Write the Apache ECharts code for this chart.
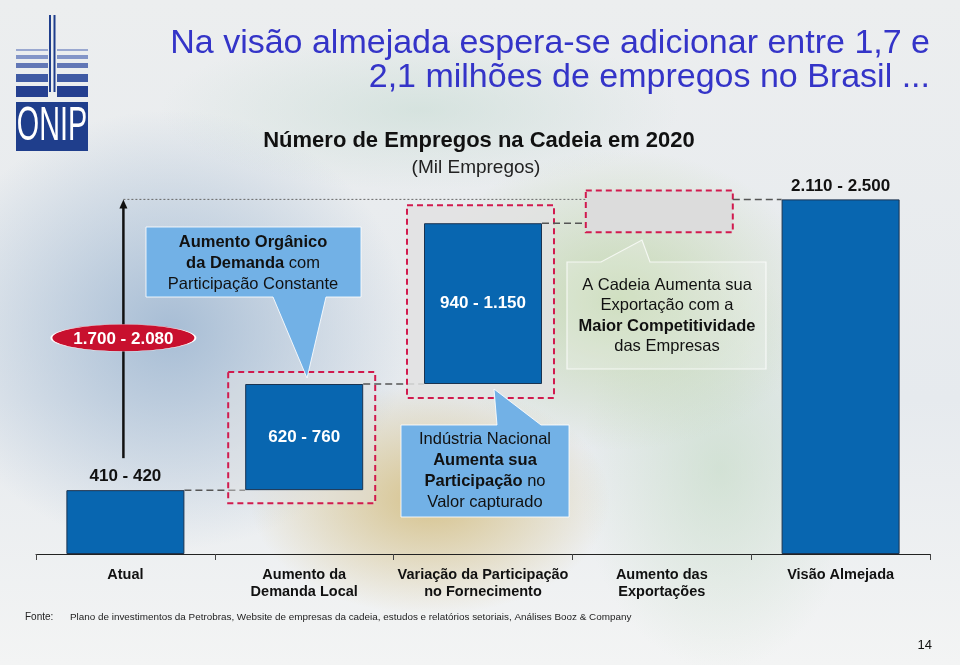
<!DOCTYPE html>
<html><head><meta charset="utf-8">
<script src="https://cdn.jsdelivr.net/npm/echarts@6/dist/echarts.min.js"></script>
<style>
html,body{margin:0;padding:0;}
#main{width:960px;height:665px;
background:
 radial-gradient(ellipse 180px 115px at 430px 500px, rgba(212,190,130,0.9), rgba(212,190,130,0) 100%),
 radial-gradient(ellipse 200px 150px at 620px 300px, rgba(190,212,165,0.8), rgba(190,212,165,0) 100%),
 radial-gradient(ellipse 240px 220px at 170px 330px, rgba(160,184,210,0.9), rgba(160,184,210,0) 100%),
 radial-gradient(ellipse 260px 80px at 420px 110px, rgba(200,220,212,0.6), rgba(200,220,212,0) 100%),
 radial-gradient(ellipse 140px 200px at 720px 470px, rgba(195,218,195,0.6), rgba(195,218,195,0) 100%),
 linear-gradient(180deg, #eceeef 0%, #e6eaee 60%, #f3f4f4 100%);}
</style>
</head><body>
<div id="main"></div>
<script>
// ---- data ----
const categories = ['Atual', 'Aumento da\nDemanda Local', 'Variação da Participação\nno Fornecimento', 'Aumento das\nExportações', 'Visão Almejada'];
const values = [415, 690, 1045, 155, 2305];           // mil empregos (mid-range estimates)
const rangeLabels = ['410 - 420', '620 - 760', '940 - 1.150', '', '2.110 - 2.500'];
const totalIncreaseLabel = '1.700 - 2.080';
const titleLines = ['Na visão almejada espera-se adicionar entre 1,7 e', '2,1 milhões de empregos no Brasil ...'];
const subtitle = 'Número de Empregos na Cadeia em 2020';
const unitLabel = '(Mil Empregos)';
const sourceText = 'Plano de investimentos da Petrobras, Website de empresas da cadeia, estudos e relatórios setoriais, Análises Booz & Company';
const pageNumber = '14';

// ---- derived ----
const bases = values.map((v, i) => (i === 0 || i === values.length - 1) ? 0 : values.slice(0, i).reduce((a, b) => a + b, 0));
const tops = values.map((v, i) => bases[i] + v);
const total = values[values.length - 1];

const FONT = 'Liberation Sans, Arial, sans-serif';
const BLUE = '#0866b0';
const FRAME = '#d11a4e';
const framePad = {1: [12, 13], 2: [18, 14], 3: [9, 9]};
const frameFill = {1: 'rgba(228,228,228,0.45)', 2: 'rgba(226,226,226,0.85)', 3: '#dcdcdc'};

function renderDecor(params, api) {
  const i = api.value(0);
  const pLo = api.coord([i, api.value(1)]);
  const pHi = api.coord([i, api.value(2)]);
  const band = api.size([1, 0])[0];
  const c = pLo[0];
  const half = 59;
  const ch = [];
  if (framePad[i]) {
    const [pt, pb] = framePad[i];
    ch.push({type: 'rect', shape: {x: c - 76, y: pHi[1] - pt, width: 147, height: (pLo[1] - pHi[1]) + pt + pb},
      style: {fill: frameFill[i], stroke: FRAME, lineWidth: 2, lineDash: [6, 4]}});
  }
  if (i < categories.length - 1) {
    const x1 = (i === 3) ? c + 71 : c + half;
    const x2 = (i + 1 === 3) ? c + band - 76 : c + band - half;
    ch.push({type: 'line', shape: {x1: x1, y1: pHi[1], x2: x2, y2: pHi[1]},
      style: {stroke: '#555', lineWidth: 1.5, lineDash: [7, 4]}});
  }
  if (i === 0) {
    const yTop = api.coord([0, total])[1];
    ch.push({type: 'line', shape: {x1: c - 2, y1: yTop, x2: c + 3 * band - 76, y2: yTop},
      style: {stroke: '#666', lineWidth: 1, lineDash: [2, 2]}});
    const yBot = pHi[1] - 32;
    ch.push({type: 'line', shape: {x1: c - 2, y1: yBot, x2: c - 2, y2: yTop + 6}, style: {stroke: '#111', lineWidth: 2.5}});
    ch.push({type: 'polygon', shape: {points: [[c - 2, yTop], [c - 6, yTop + 9], [c + 2, yTop + 9]]}, style: {fill: '#111'}});
    const ey = yTop + (yBot - yTop) * 0.535;
    ch.push({type: 'circle', shape: {cx: c - 2, cy: ey, r: 72}, scaleY: 13.5 / 72, originX: c - 2, originY: ey,
      style: {fill: '#c8102e', stroke: '#fff', lineWidth: 2}});
    ch.push({type: 'text', style: {text: totalIncreaseLabel, x: c - 2, y: ey + 1, align: 'center', verticalAlign: 'middle',
      fill: '#fff', fontSize: 17, fontWeight: 'bold', fontFamily: FONT}});
  }
  return {type: 'group', children: ch};
}

const labelCfg = (i) => {
  if (i === 0 || i === 4) return {show: true, position: 'top', distance: 5, color: '#111', fontWeight: 'bold', fontSize: 17, fontFamily: FONT, formatter: rangeLabels[i]};
  if (i === 3) return {show: false};
  return {show: true, position: 'inside', color: '#fff', fontWeight: 'bold', fontSize: 17, fontFamily: FONT, formatter: rangeLabels[i]};
};

function txt(text, x, y, opts) {
  return {type: 'text', silent: true, z: 20, style: Object.assign({text: text, x: x, y: y, align: 'center', verticalAlign: 'middle', fill: '#111', fontFamily: FONT, fontSize: 15}, opts || {})};
}
const calloutRich = {b: {fontWeight: 'bold', fontSize: 16.5, fontFamily: FONT, fill: '#111', lineHeight: 21}, n: {fontSize: 16.5, fontFamily: FONT, fill: '#111', lineHeight: 21}};
const calloutRich3 = {b: {fontWeight: 'bold', fontSize: 16.5, fontFamily: FONT, fill: '#111', lineHeight: 20.5}, n: {fontSize: 16.5, fontFamily: FONT, fill: '#111', lineHeight: 20.5}};

const logo = [];
const stripes = [[49, 2, '#9aa8d0'], [55, 4, '#8395c8'], [63, 5, '#6277b6'], [74, 8, '#3f5aa4'], [86, 11, '#243f90']];
stripes.forEach(s => {
  logo.push({type: 'rect', shape: {x: 16, y: s[0], width: 32, height: s[1]}, style: {fill: s[2]}});
  logo.push({type: 'rect', shape: {x: 57, y: s[0], width: 31, height: s[1]}, style: {fill: s[2]}});
});
logo.push({type: 'rect', shape: {x: 49, y: 15, width: 2, height: 77}, style: {fill: '#1f3e8c'}});
logo.push({type: 'rect', shape: {x: 53.5, y: 15, width: 2, height: 77}, style: {fill: '#1f3e8c'}});
logo.push({type: 'rect', shape: {x: 16, y: 102, width: 72, height: 49}, style: {fill: '#1f3e8c'}});
logo.push({type: 'text', style: {text: 'ONIP', x: 52, y: 127, align: 'center', verticalAlign: 'middle', fill: '#fff', fontSize: 48, fontFamily: FONT}, scaleX: 0.6, originX: 52, originY: 127});

const graphics = logo.concat([
  txt(titleLines[0], 930, 44, {align: 'right', fill: '#3434c8', fontSize: 34}),
  txt(titleLines[1], 930, 78, {align: 'right', fill: '#3434c8', fontSize: 34}),
  txt(subtitle, 479, 141, {fontSize: 22, fontWeight: 'bold'}),
  txt(unitLabel, 476, 168, {fontSize: 19, fill: '#222'}),
  // callout 1
  {type: 'polygon', z: 15, silent: true, shape: {points: [[146, 227], [361, 227], [361, 297], [326, 297], [307, 378], [273, 297], [146, 297]]},
    style: {fill: '#72b1e6', stroke: 'rgba(255,255,255,0.85)', lineWidth: 1}},
  txt('{b|Aumento Orgânico}\n{b|da Demanda}{n| com}\n{n|Participação Constante}', 253, 263, {rich: calloutRich}),
  // callout 2
  {type: 'polygon', z: 15, silent: true, shape: {points: [[401, 425], [497, 425], [494, 389], [541, 425], [569, 425], [569, 517], [401, 517]]},
    style: {fill: '#72b1e6', stroke: 'rgba(255,255,255,0.85)', lineWidth: 1}},
  txt('{n|Indústria Nacional}\n{b|Aumenta sua}\n{b|Participação}{n| no}\n{n|Valor capturado}', 485, 471, {rich: calloutRich}),
  // callout 3
  {type: 'polygon', z: 15, silent: true, shape: {points: [[567, 262], [601, 262], [642, 240], [650, 262], [766, 262], [766, 369], [567, 369]]},
    style: {fill: 'rgba(255,255,255,0.18)', stroke: 'rgba(255,255,255,0.75)', lineWidth: 1.2}},
  txt('{n|A Cadeia Aumenta sua}\n{n|Exportação com a}\n{b|Maior Competitividade}\n{n|das Empresas}', 667, 316, {rich: calloutRich3}),
  // footer
  txt('Fonte:', 25, 617, {align: 'left', fontSize: 10, fill: '#222'}),
  txt(sourceText, 70, 617, {align: 'left', fontSize: 9.9, fill: '#222'}),
  txt(pageNumber, 932, 645, {align: 'right', fontSize: 13})
]);

const chart = echarts.init(document.getElementById('main'), null, {renderer: 'canvas'});
chart.setOption({
  animation: false,
  backgroundColor: 'transparent',
  grid: {left: 36, right: 30, top: 154, bottom: 111},
  xAxis: {type: 'category', data: categories,
    axisLine: {show: true, lineStyle: {color: '#222', width: 1}},
    axisTick: {show: true, alignWithLabel: false, length: 6, lineStyle: {color: '#444'}},
    axisLabel: {interval: 0, margin: 12, fontFamily: FONT, fontWeight: 'bold', fontSize: 14.5, color: '#111', lineHeight: 17}},
  yAxis: {type: 'value', min: 0, max: 2600, show: false},
  series: [
    {type: 'custom', coordinateSystem: 'cartesian2d', z: 1, silent: true, clip: false,
      encode: {x: 0, y: [1, 2]},
      data: categories.map((c, i) => [i, bases[i], tops[i]]),
      renderItem: renderDecor},
    {type: 'bar', stack: 'w', barWidth: 118, z: 2, silent: true,
      itemStyle: {color: 'transparent'}, data: bases},
    {type: 'bar', stack: 'w', barWidth: 118, z: 3, silent: true,
      data: values.map((v, i) => ({value: v,
        itemStyle: i === 3 ? {color: 'transparent', borderWidth: 0} : {color: BLUE, borderColor: '#1b3350', borderWidth: 1},
        label: labelCfg(i)}))}
  ],
  graphic: graphics
});
</script>
</body></html>
